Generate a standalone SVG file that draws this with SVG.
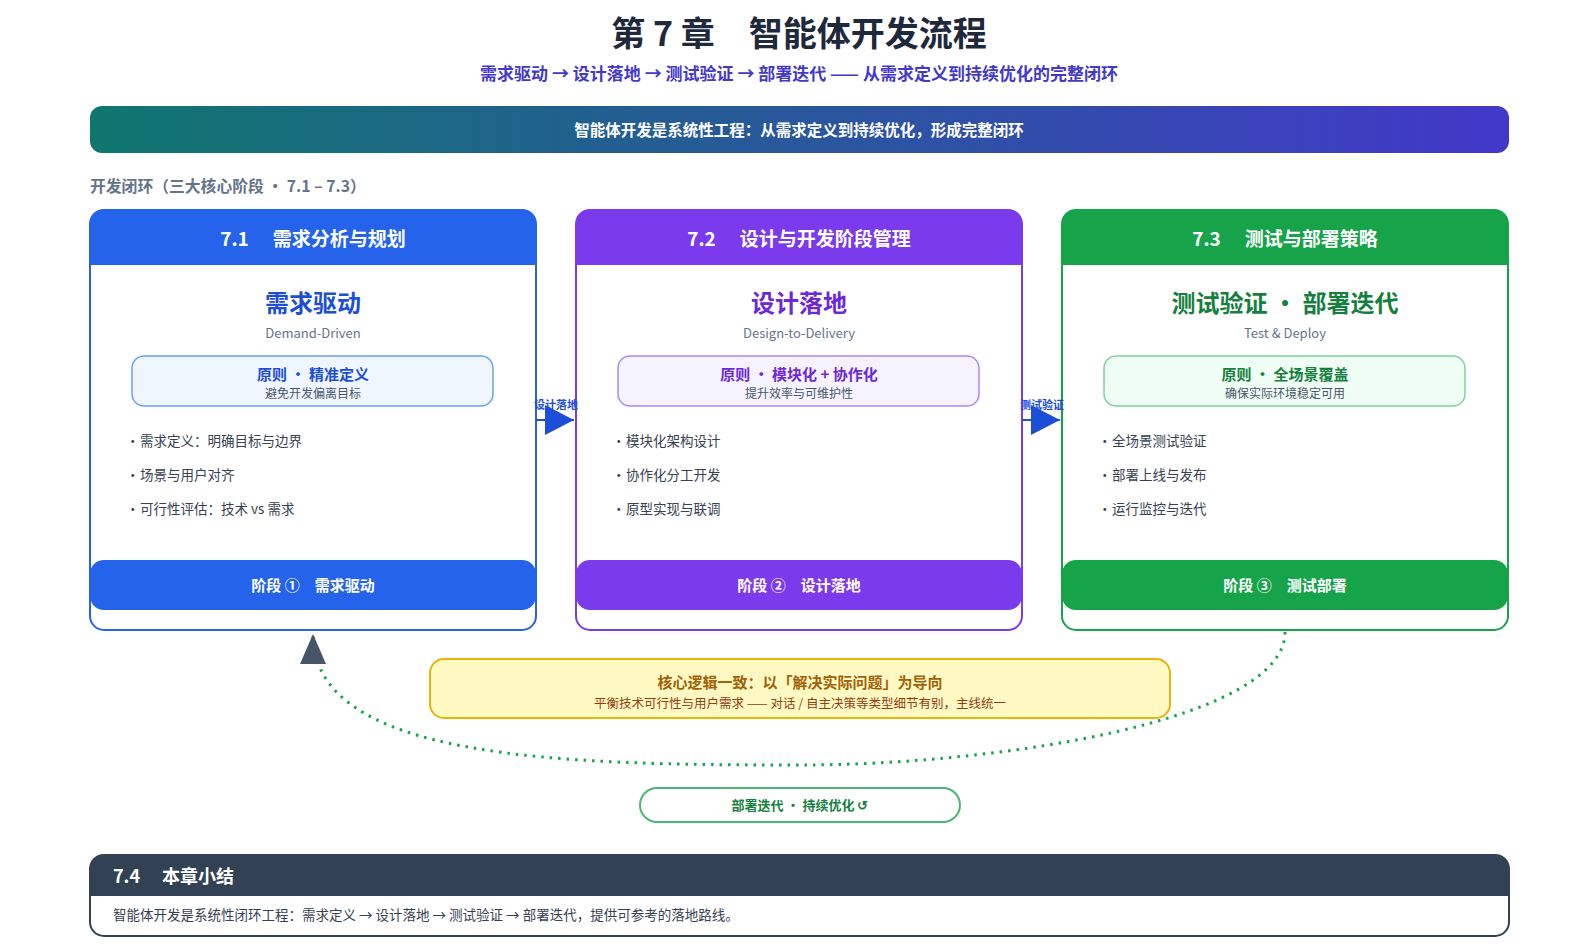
<svg xmlns="http://www.w3.org/2000/svg" width="1581" height="947" viewBox="0 0 1581 947">
<style>
text{font-family:"Noto Sans CJK SC","Noto Sans",sans-serif}
.b{font-weight:700}
.c{text-anchor:middle}
.hdr{font-size:19px;font-weight:700;fill:#fff;text-anchor:middle}
.big{font-size:24px;font-weight:700;text-anchor:middle}
.en{font-size:13px;fill:#64748b;text-anchor:middle}
.pt{font-size:15px;font-weight:700;text-anchor:middle}
.ps{font-size:12px;fill:#475569;text-anchor:middle}
.bl{font-size:13.5px;fill:#374151}
.ft{font-size:15px;font-weight:700;fill:#fff;text-anchor:middle}
.al{font-size:11px;font-weight:700;fill:#1d4ed8;text-anchor:middle}
</style>
<defs>
<linearGradient id="bg" x1="0" y1="0" x2="1" y2="0">
<stop offset="0" stop-color="#0f766e"/>
<stop offset="1" stop-color="#4338ca"/>
</linearGradient>
<marker id="ab" markerUnits="userSpaceOnUse" markerWidth="30" markerHeight="30" refX="29" refY="15" orient="auto" viewBox="0 0 30 30">
<path d="M0,0 L29,15 L0,30 Z" fill="#1d4ed8"/>
</marker>
<marker id="as" markerUnits="userSpaceOnUse" markerWidth="30" markerHeight="28" refX="30" refY="13" orient="auto" viewBox="0 0 30 26">
<path d="M0,0 L30,13 L0,26 Z" fill="#475569"/>
</marker>
</defs>
<rect width="1581" height="947" fill="#fff"/>

<g id="title">
<text x="799" y="46" class="b c" font-size="34" fill="#1e293b">第 7 章　智能体开发流程</text>
<text x="799" y="80" class="b c" font-size="17" fill="#4338ca">需求驱动 → 设计落地 → 测试验证 → 部署迭代 —— 从需求定义到持续优化的完整闭环</text>
</g>

<g id="banner">
<rect x="90" y="106" width="1419" height="47" rx="12" fill="url(#bg)"/>
<text x="799" y="136" class="b c" font-size="15.5" fill="#fff">智能体开发是系统性工程：从需求定义到持续优化，形成完整闭环</text>
</g>

<g id="section-label">
<text x="90" y="192" class="b" font-size="15.8" fill="#64748b">开发闭环（三大核心阶段 · 7.1 – 7.3）</text>
</g>

<g id="card1">
<rect x="90" y="210" width="446" height="420" rx="14" fill="#fff" stroke="#2563eb" stroke-width="2"/>
<path d="M90,265 V224 Q90,210 104,210 H522 Q536,210 536,224 V265 Z" fill="#2563eb"/>
<text x="313" y="246" class="hdr">7.1<tspan dx="24">需求分析与规划</tspan></text>
<text x="313" y="312" class="big" fill="#1d4ed8">需求驱动</text>
<text x="313" y="338" class="en">Demand-Driven</text>
<rect x="132" y="356" width="361" height="50" rx="12" fill="#eff6ff" stroke="#6e9ef5" stroke-width="1.5"/>
<text x="313" y="380" class="pt" fill="#1d4ed8">原则 · 精准定义</text>
<text x="313" y="398" class="ps">避免开发偏离目标</text>
<text x="126" y="446" class="bl">·</text><text x="140" y="446" class="bl">需求定义：明确目标与边界</text>
<text x="126" y="480" class="bl">·</text><text x="140" y="480" class="bl">场景与用户对齐</text>
<text x="126" y="514" class="bl">·</text><text x="140" y="514" class="bl">可行性评估：技术 vs 需求</text>
<rect x="90" y="560" width="446" height="50" rx="14" fill="#2563eb"/>
<text x="313" y="591" class="ft">阶段 ①　需求驱动</text>
</g>

<g id="card2">
<rect x="576" y="210" width="446" height="420" rx="14" fill="#fff" stroke="#7c3aed" stroke-width="2"/>
<path d="M576,265 V224 Q576,210 590,210 H1008 Q1022,210 1022,224 V265 Z" fill="#7c3aed"/>
<text x="799" y="246" class="hdr">7.2<tspan dx="24">设计与开发阶段管理</tspan></text>
<text x="799" y="312" class="big" fill="#6d28d9">设计落地</text>
<text x="799" y="338" class="en">Design-to-Delivery</text>
<rect x="618" y="356" width="361" height="50" rx="12" fill="#f5f3ff" stroke="#a78bfa" stroke-width="1.5"/>
<text x="799" y="380" class="pt" fill="#6d28d9">原则 · 模块化 + 协作化</text>
<text x="799" y="398" class="ps">提升效率与可维护性</text>
<text x="612" y="446" class="bl">·</text><text x="626" y="446" class="bl">模块化架构设计</text>
<text x="612" y="480" class="bl">·</text><text x="626" y="480" class="bl">协作化分工开发</text>
<text x="612" y="514" class="bl">·</text><text x="626" y="514" class="bl">原型实现与联调</text>
<rect x="576" y="560" width="446" height="50" rx="14" fill="#7c3aed"/>
<text x="799" y="591" class="ft">阶段 ②　设计落地</text>
</g>

<g id="card3">
<rect x="1062" y="210" width="446" height="420" rx="14" fill="#fff" stroke="#16a34a" stroke-width="2"/>
<path d="M1062,265 V224 Q1062,210 1076,210 H1494 Q1508,210 1508,224 V265 Z" fill="#16a34a"/>
<text x="1285" y="246" class="hdr">7.3<tspan dx="24">测试与部署策略</tspan></text>
<text x="1285" y="312" class="big" fill="#15803d">测试验证 · 部署迭代</text>
<text x="1285" y="338" class="en">Test &amp; Deploy</text>
<rect x="1104" y="356" width="361" height="50" rx="12" fill="#f0fdf4" stroke="#7fd29b" stroke-width="1.5"/>
<text x="1285" y="380" class="pt" fill="#15803d">原则 · 全场景覆盖</text>
<text x="1285" y="398" class="ps">确保实际环境稳定可用</text>
<text x="1098" y="446" class="bl">·</text><text x="1112" y="446" class="bl">全场景测试验证</text>
<text x="1098" y="480" class="bl">·</text><text x="1112" y="480" class="bl">部署上线与发布</text>
<text x="1098" y="514" class="bl">·</text><text x="1112" y="514" class="bl">运行监控与迭代</text>
<rect x="1062" y="560" width="446" height="50" rx="14" fill="#16a34a"/>
<text x="1285" y="591" class="ft">阶段 ③　测试部署</text>
</g>

<g id="core-logic">
<rect x="430" y="659" width="740" height="59" rx="14" fill="#fef9c3" stroke="#eab308" stroke-width="2"/>
<text x="800" y="688" class="b c" font-size="15" fill="#a16207">核心逻辑一致：以「解决实际问题」为导向</text>
<text x="800" y="708" class="c" font-size="12.5" fill="#92400e">平衡技术可行性与用户需求 —— 对话 / 自主决策等类型细节有别，主线统一</text>
</g>

<g id="loop-label">
<rect x="640" y="788" width="320" height="34" rx="17" fill="#fff" stroke="#4ab870" stroke-width="2"/>
<text x="800" y="810" class="b c" font-size="13" fill="#15803d">部署迭代 · 持续优化 ↺</text>
</g>

<g id="connectors">
<path d="M536,420 H574" stroke="#1d4ed8" stroke-width="2" fill="none" marker-end="url(#ab)"/>
<path d="M1022,420 H1060" stroke="#1d4ed8" stroke-width="2" fill="none" marker-end="url(#ab)"/>
<path d="M1285,632 C1285,720 1000,765 799,765 C560,765 313,760 313,634" stroke="#16a34a" stroke-width="3" stroke-dasharray="2.5 6" fill="none" marker-end="url(#as)"/>
<text x="556" y="409" class="al">设计落地</text>
<text x="1042" y="409" class="al">测试验证</text>
</g>

<g id="summary">
<rect x="90" y="855" width="1419" height="81" rx="14" fill="#fff" stroke="#334155" stroke-width="2"/>
<path d="M90,896 V869 Q90,855 104,855 H1495 Q1509,855 1509,869 V896 Z" fill="#334155"/>
<text x="113" y="883" class="b" font-size="18" fill="#fff">7.4<tspan dx="22">本章小结</tspan></text>
<text x="113" y="920" font-size="13.5" fill="#374151">智能体开发是系统性闭环工程：需求定义 → 设计落地 → 测试验证 → 部署迭代，提供可参考的落地路线。</text>
</g>
</svg>
